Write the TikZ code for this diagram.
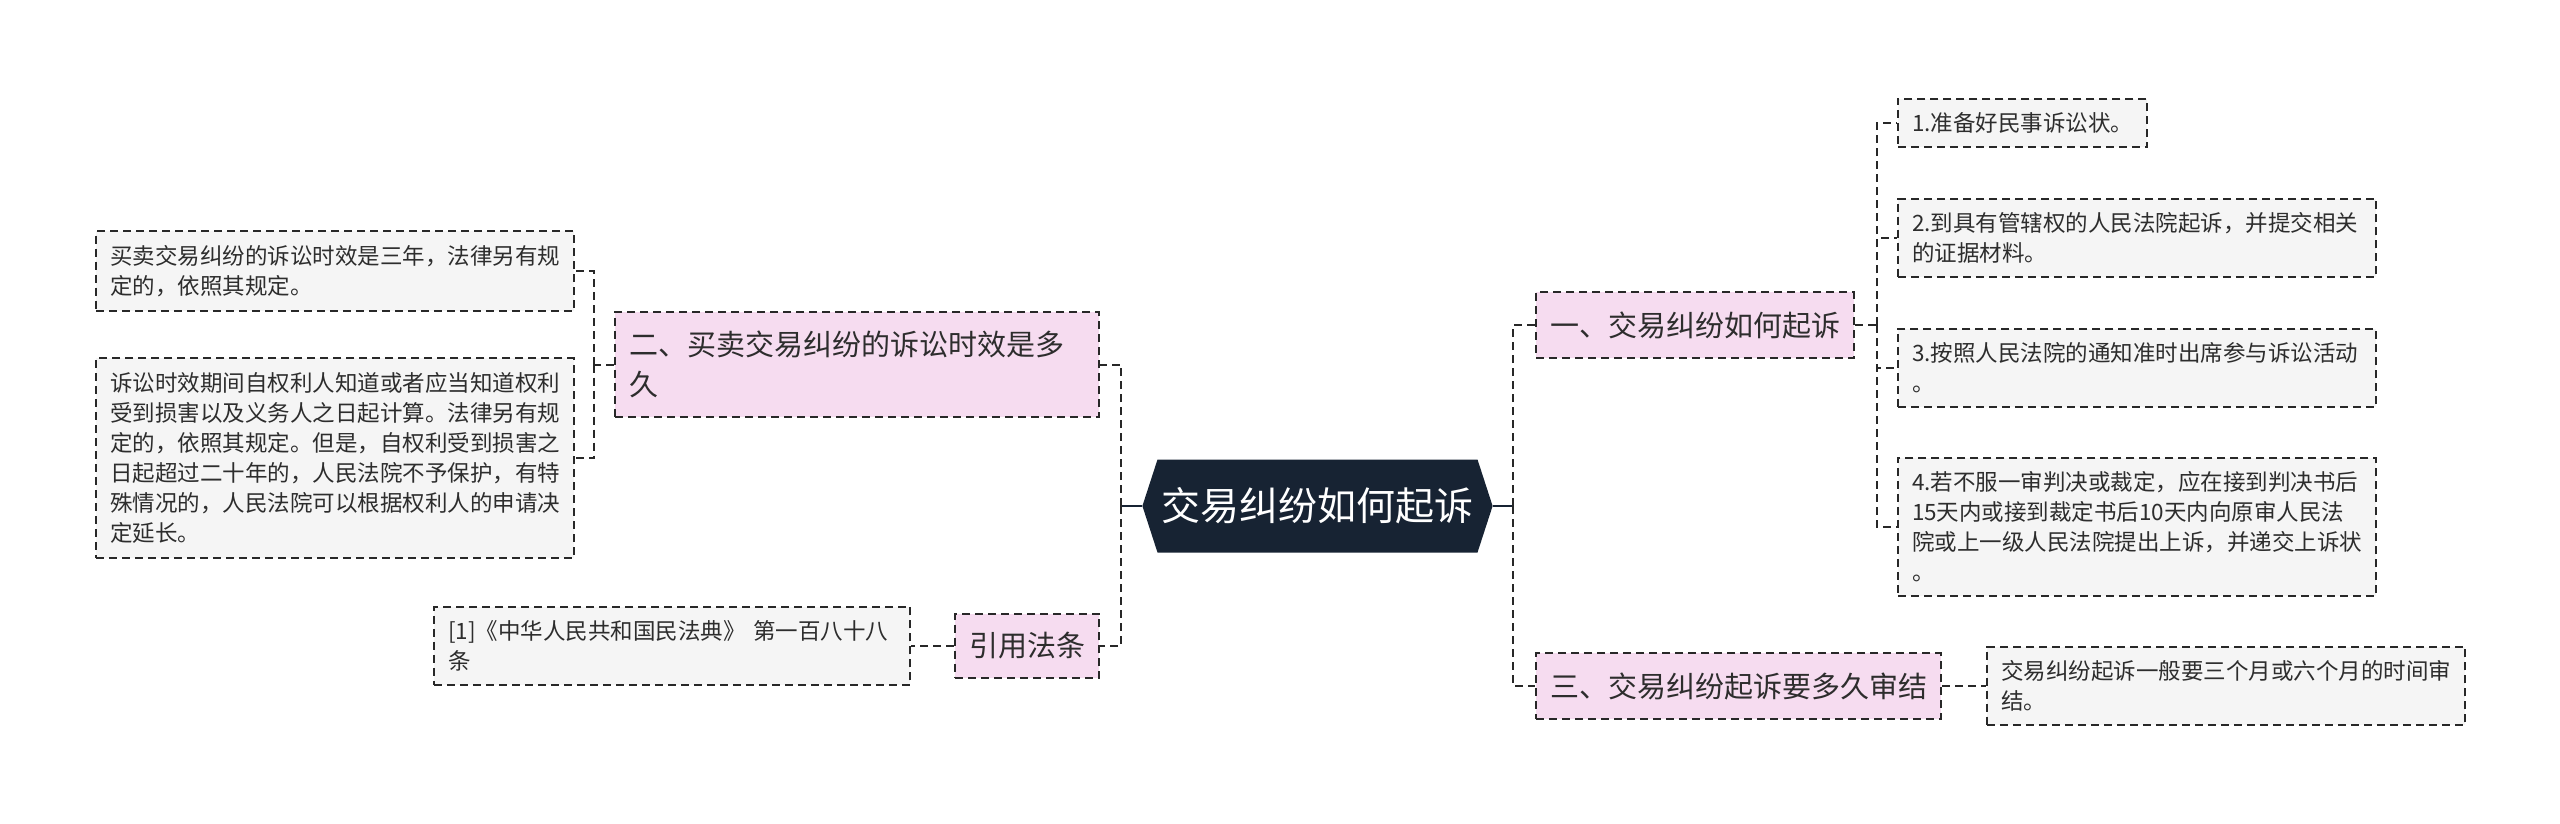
\documentclass[tikz,border=0pt]{standalone}
\usepackage{fontspec}
\setmainfont{Noto Sans CJK SC}
\definecolor{rootnavy}{RGB}{23,35,51}
\definecolor{topicpink}{RGB}{246,220,240}
\definecolor{leafgray}{RGB}{245,245,245}
\definecolor{linegray}{RGB}{40,40,40}
\definecolor{textdark}{RGB}{45,45,45}
\usetikzlibrary{shapes.symbols}

\begin{document}
\begin{tikzpicture}[x=0.5pt, y=-0.5pt,
    root/.style={signal, signal to=west and east, signal pointer angle=144,
                 fill=rootnavy, text=white, minimum height=46.5pt, inner xsep=2pt,
                 font=\fontsize{19.5pt}{24pt}\selectfont},
    topic/.style={rectangle, draw=linegray, line width=1pt, dash pattern=on 4pt off 2.5pt,
                  fill=topicpink, text=textdark, inner xsep=7pt, inner ysep=9.5pt, align=left,
                  font=\fontsize{14.5pt}{20pt}\selectfont},
    leaf/.style={rectangle, draw=linegray, line width=1pt, dash pattern=on 4pt off 2.5pt,
                 fill=leafgray, text=textdark, inner xsep=7pt, inner ysep=7pt, align=left,
                 font=\fontsize{11.25pt}{15pt}\selectfont},
    link/.style={draw=linegray, line width=1pt, dash pattern=on 4pt off 2.5pt},
    stub/.style={draw=rootnavy, line width=1.2pt}]

\useasboundingbox (0,0) rectangle (2560,824);

\node[root] (root) at (1317.5,506) {交易纠纷如何起诉};

% Right branch
\node[topic, anchor=west] (one) at (1535,325) {一、交易纠纷如何起诉};
\node[topic, anchor=west] (three) at (1535,686) {三、交易纠纷起诉要多久审结};

\node[leaf, anchor=west] (s1) at (1897,123) {1.准备好民事诉讼状。};
\node[leaf, anchor=west, text width=225pt] (s2) at (1897,238) {2.到具有管辖权的人民法院起诉，并提交相关\\的证据材料。};
\node[leaf, anchor=west, text width=225pt] (s3) at (1897,368) {3.按照人民法院的通知准时出席参与诉讼活动\\。};
\node[leaf, anchor=west, text width=225pt] (s4) at (1897,527) {4.若不服一审判决或裁定，应在接到判决书后\\15天内或接到裁定书后10天内向原审人民法\\院或上一级人民法院提出上诉，并递交上诉状\\。};
\node[leaf, anchor=west, text width=225pt] (s5) at (1986,686) {交易纠纷起诉一般要三个月或六个月的时间审\\结。};

% Left branch
\node[topic, anchor=east, text width=228pt] (two) at (1100,364.5) {二、买卖交易纠纷的诉讼时效是多\\久};
\node[topic, anchor=east] (law) at (1100,646) {引用法条};

\node[leaf, anchor=east, text width=225pt] (la) at (575,271) {买卖交易纠纷的诉讼时效是三年，法律另有规\\定的，依照其规定。};
\node[leaf, anchor=east, text width=225pt] (lb) at (575,458) {诉讼时效期间自权利人知道或者应当知道权利\\受到损害以及义务人之日起计算。法律另有规\\定的，依照其规定。但是，自权利受到损害之\\日起超过二十年的，人民法院不予保护，有特\\殊情况的，人民法院可以根据权利人的申请决\\定延长。};
\node[leaf, anchor=east, text width=224pt] (lc) at (911,646) {[1]《中华人民共和国民法典》~第一百八十八\\条};

% Connectors
\coordinate (jl) at (1121,506);
\coordinate (jr) at (1513,506);
\coordinate (j1) at (1877,325);
\coordinate (j2) at (594,364.5);

\draw[stub] (root.west) -- (jl);
\draw[stub] (root.east) -- (jr);
\draw[link] (jl) |- (two.east);
\draw[link] (jl) |- (law.east);
\draw[link] (jr) |- (one.west);
\draw[link] (jr) |- (three.west);

\draw[link] (one.east) -- (j1);
\foreach \s in {s1,s2,s3,s4}
  \draw[link] (j1) |- (\s.west);
\draw[link] (three.east) -- (s5.west);

\draw[link] (two.west) -- (j2);
\foreach \s in {la,lb}
  \draw[link] (j2) |- (\s.east);
\draw[link] (law.west) -- (lc.east);
\end{tikzpicture}
\end{document}
